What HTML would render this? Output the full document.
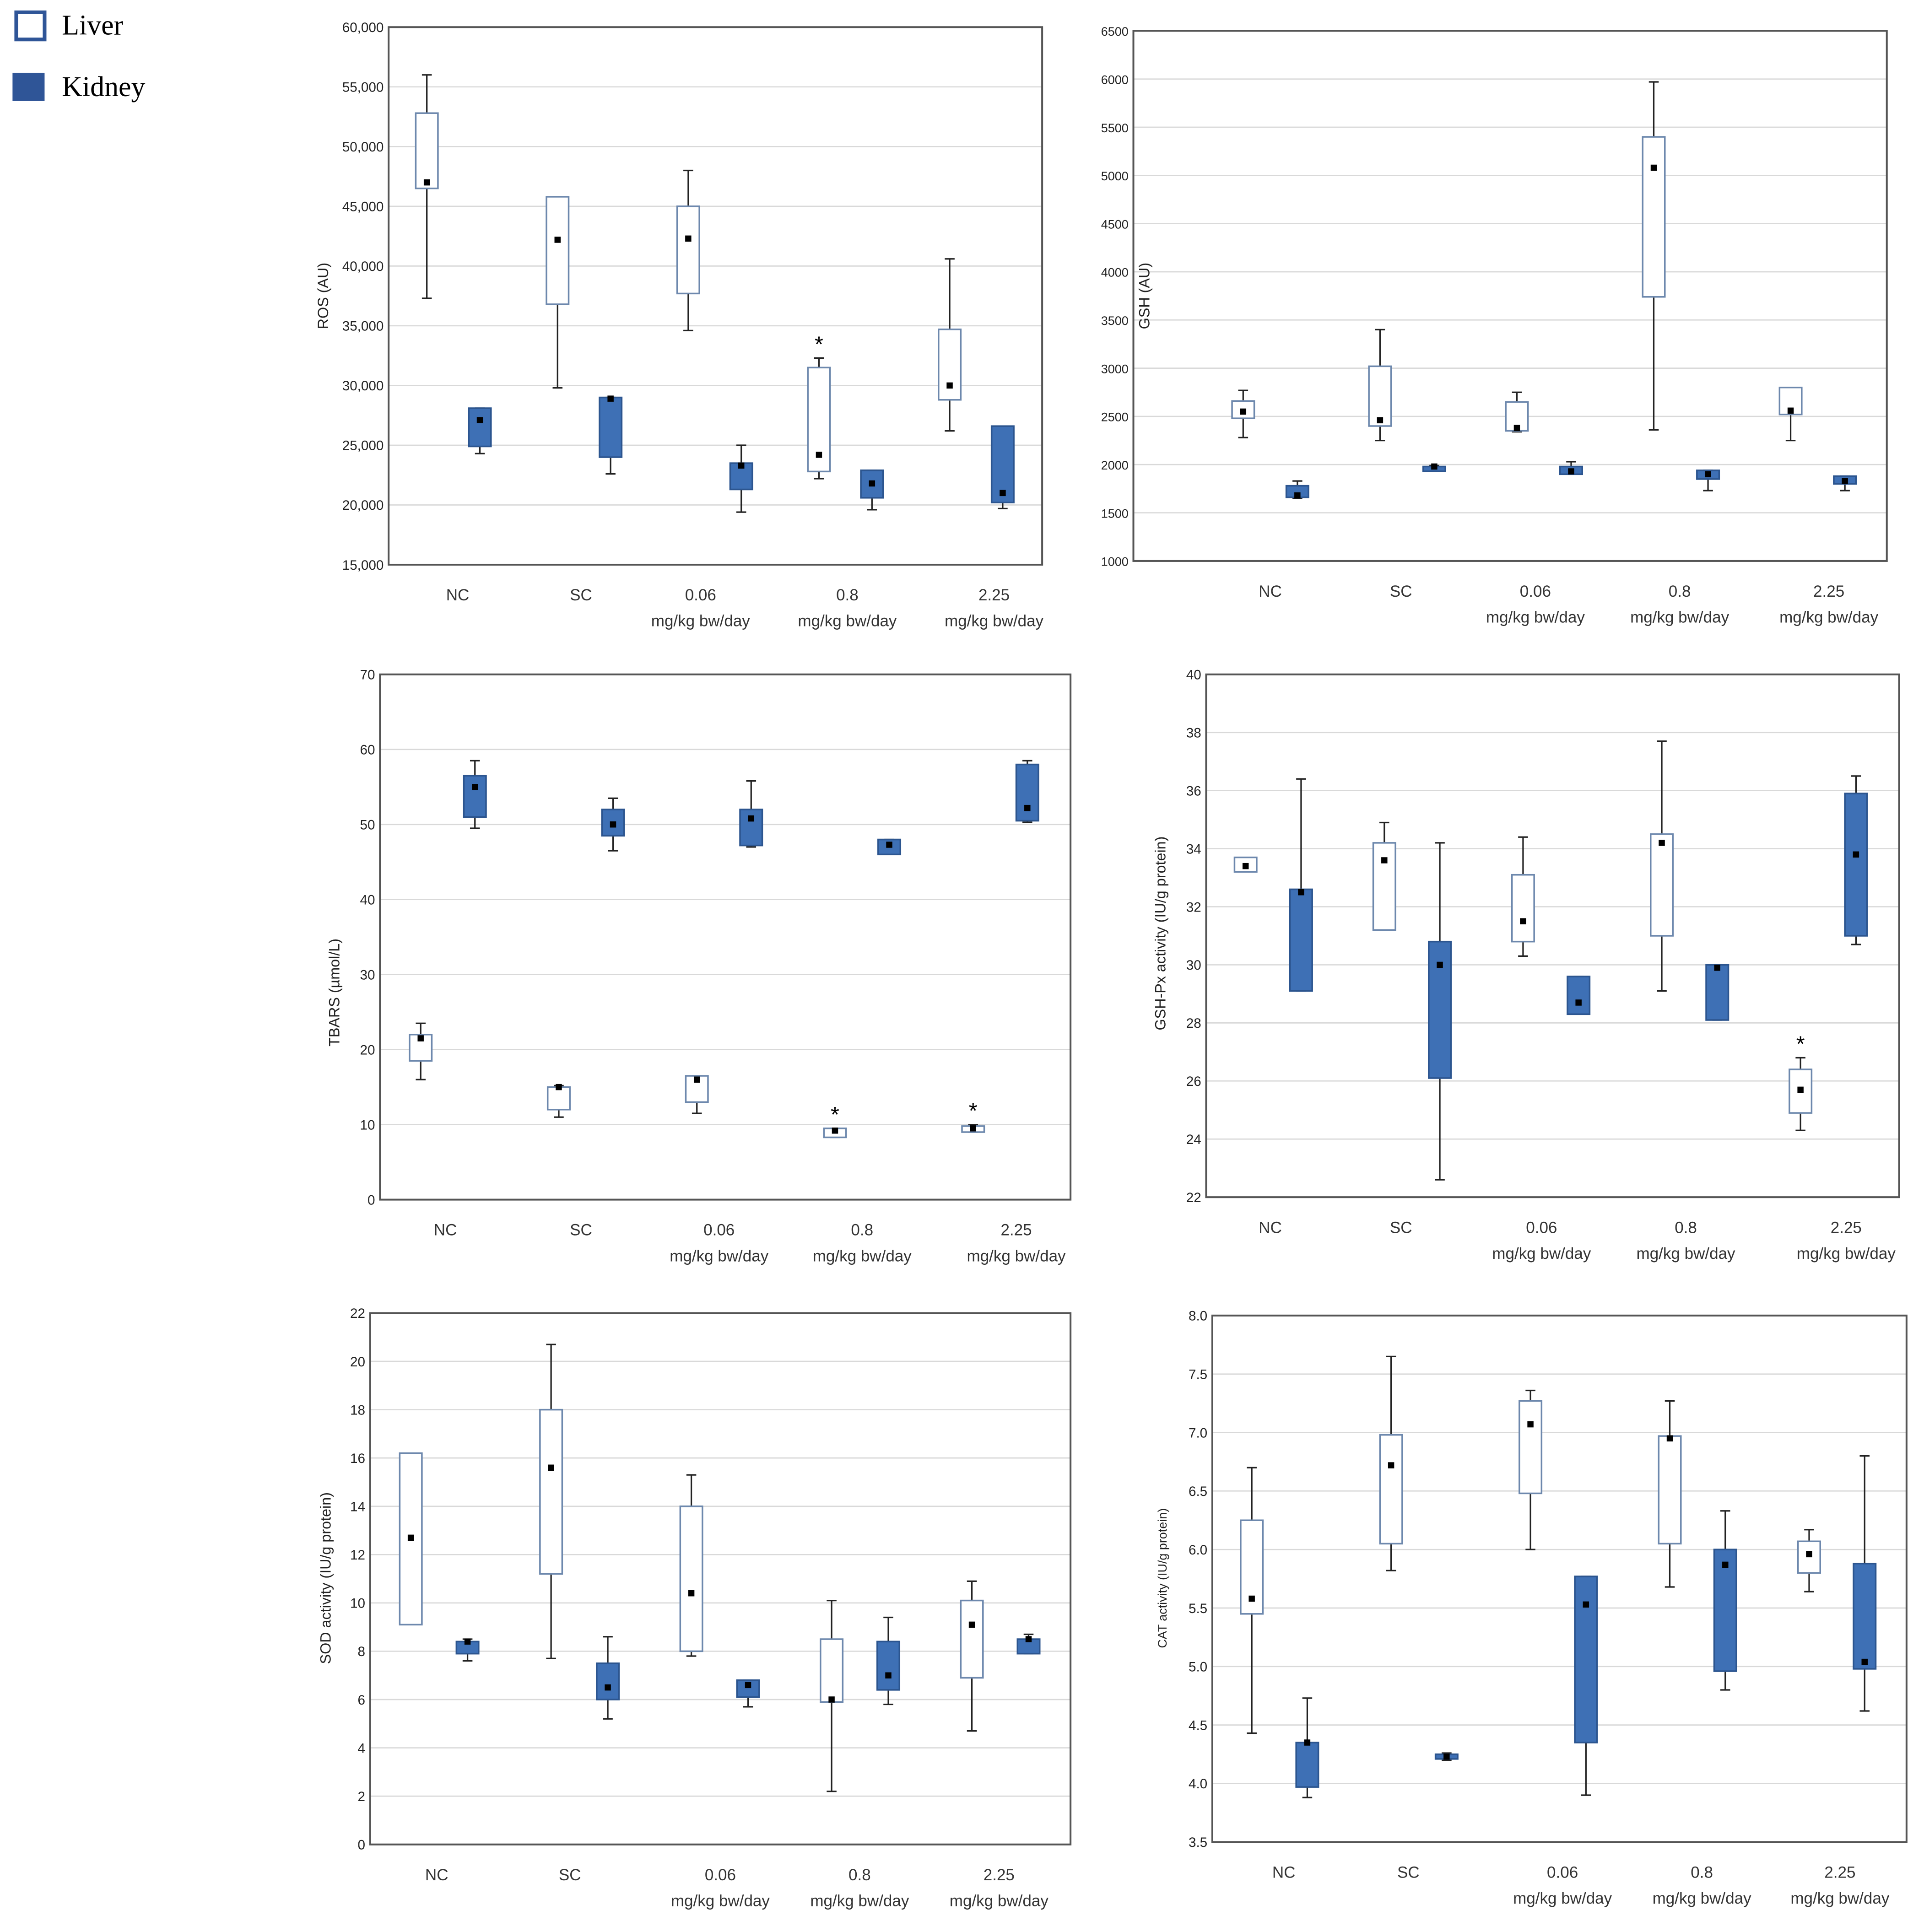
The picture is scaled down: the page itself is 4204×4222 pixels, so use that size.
<!DOCTYPE html>
<html><head><meta charset="utf-8"><style>
html,body{margin:0;padding:0;background:#fff;}
svg{display:block;}
</style></head><body>
<svg id="fig" xmlns="http://www.w3.org/2000/svg" width="4204" height="4222" viewBox="0 0 1560 1567">
<g>
<rect x="13" y="10" width="23" height="22" fill="#fff" stroke="#2f5597" stroke-width="3"/>
<text x="50" y="28" font-family="Liberation Serif, serif" font-size="23">Liver</text>
<rect x="10" y="59" width="26" height="23" fill="#2f5597"/>
<text x="50" y="78" font-family="Liberation Serif, serif" font-size="23">Kidney</text>
</g>
</svg>
<script>
const categories = [["NC",""],["SC",""],["0.06","mg/kg bw/day"],["0.8","mg/kg bw/day"],["2.25","mg/kg bw/day"]];
// each stat: [whiskerLow, boxLow, boxHigh, whiskerHigh, mean]
const rosLiver = [[37300,46500,52800,56000,47000],[29800,36800,45800,45800,42200],[34600,37700,45000,48000,42300],[22200,22800,31500,32300,24200],[26200,28800,34700,40600,30000]];
const rosKidney = [[24300,24900,28100,28100,27100],[22600,24000,29000,29000,28900],[19400,21300,23500,25000,23300],[19600,20600,22900,22900,21800],[19700,20200,26600,26600,21000]];
const rosStars = [3];
const gshLiver = [[2280,2480,2660,2770,2550],[2250,2400,3020,3400,2460],[2340,2350,2650,2750,2380],[2360,3740,5400,5970,5080],[2250,2520,2800,2800,2560]];
const gshKidney = [[1650,1660,1780,1830,1680],[1930,1930,1980,1990,1980],[1900,1900,1980,2030,1930],[1730,1850,1940,1940,1900],[1730,1800,1880,1880,1830]];
const tbarsLiver = [[16,18.5,22,23.5,21.5],[11,12,15,15.2,15],[11.5,13,16.5,16.5,16],[8.3,8.3,9.5,9.5,9.2],[9,9,9.8,10,9.5]];
const tbarsKidney = [[49.5,51,56.5,58.5,55],[46.5,48.5,52,53.5,50],[47,47.2,52,55.8,50.8],[46,46,48,48,47.3],[50.3,50.5,58,58.5,52.2]];
const tbarsStars = [3,4];
const gpxLiver = [[33.2,33.2,33.7,33.7,33.4],[31.2,31.2,34.2,34.9,33.6],[30.3,30.8,33.1,34.4,31.5],[29.1,31,34.5,37.7,34.2],[24.3,24.9,26.4,26.8,25.7]];
const gpxKidney = [[29.1,29.1,32.6,36.4,32.5],[22.6,26.1,30.8,34.2,30],[28.3,28.3,29.6,29.6,28.7],[28.1,28.1,30,30,29.9],[30.7,31,35.9,36.5,33.8]];
const gpxStars = [4];
const sodLiver = [[9.1,9.1,16.2,16.2,12.7],[7.7,11.2,18,20.7,15.6],[7.8,8,14,15.3,10.4],[2.2,5.9,8.5,10.1,6],[4.7,6.9,10.1,10.9,9.1]];
const sodKidney = [[7.6,7.9,8.4,8.5,8.4],[5.2,6,7.5,8.6,6.5],[5.7,6.1,6.8,6.8,6.6],[5.8,6.4,8.4,9.4,7],[7.9,7.9,8.5,8.7,8.5]];
const catLiver = [[4.43,5.45,6.25,6.7,5.58],[5.82,6.05,6.98,7.65,6.72],[6.0,6.48,7.27,7.36,7.07],[5.68,6.05,6.97,7.27,6.95],[5.64,5.8,6.07,6.17,5.96]];
const catKidney = [[3.88,3.97,4.35,4.73,4.35],[4.2,4.21,4.25,4.26,4.23],[3.9,4.35,5.77,5.77,5.53],[4.8,4.96,6,6.33,5.87],[4.62,4.98,5.88,6.8,5.04]];
const rosTicks = ["15,000","20,000","25,000","30,000","35,000","40,000","45,000","50,000","55,000","60,000"];
const gshTicks = ["1000","1500","2000","2500","3000","3500","4000","4500","5000","5500","6000","6500"];
const tbarsTicks = ["0","10","20","30","40","50","60","70"];
const gpxTicks = ["22","24","26","28","30","32","34","36","38","40"];
const sodTicks = ["0","2","4","6","8","10","12","14","16","18","20","22"];
const catTicks = ["3.5","4.0","4.5","5.0","5.5","6.0","6.5","7.0","7.5","8.0"];

const NS="http://www.w3.org/2000/svg";
const svg=document.getElementById('fig');
function mk(tag,attrs,parent){const e=document.createElementNS(NS,tag);for(const k in attrs)e.setAttribute(k,attrs[k]);(parent||svg).appendChild(e);return e;}

function panel(cfg){
  const g=mk('g',{});
  
  
  const {x0,x1,y0,y1,min,max}=cfg;
  const y=v=>y1-(v-min)/(max-min)*(y1-y0);
  const groupW=(cfg.lastLiver-cfg.firstLiver)/4;
  const lx=i=>cfg.firstLiver+i*groupW;
  const kx=i=>lx(i)+cfg.kOff;
  // grid & ticks
  cfg.ticks.forEach(t=>{
    const v=parseFloat(t.replace(/,/g,''));
    const yy=y(v);
    if(v!==min&&v!==max){const l=mk('line',{x1:x0,x2:x1,y1:yy,y2:yy,stroke:'#d9d9d9','stroke-width':1},g);
      
      }
    const tx=mk('text',{x:x0-4,y:yy+4,'text-anchor':'end','font-family':'Liberation Sans, sans-serif','font-size':cfg.tickFs||11,fill:'#222'},g);
    tx.textContent=t;
    
    
  });
  const fr=mk('rect',{x:x0,y:y0,width:x1-x0,height:y1-y0,fill:'none',stroke:'#555','stroke-width':1.5},g);
  
  
  const bw=cfg.bw||18;
  function box(s,cx,kid,nm){
    const bg=mk('g',{},g);
    
    
    const col=kid?'#3e70b5':'#fff', st=kid?'#2c558f':'#6d88ad';
    mk('line',{x1:cx,x2:cx,y1:y(s[0]),y2:y(s[3]),stroke:'#222','stroke-width':1.2},bg);
    mk('line',{x1:cx-4,x2:cx+4,y1:y(s[0]),y2:y(s[0]),stroke:'#222','stroke-width':1.2},bg);
    mk('line',{x1:cx-4,x2:cx+4,y1:y(s[3]),y2:y(s[3]),stroke:'#222','stroke-width':1.2},bg);
    mk('rect',{x:cx-bw/2,y:y(s[2]),width:bw,height:Math.max(2,y(s[1])-y(s[2])),fill:col,stroke:st,'stroke-width':1.3},bg);
    mk('rect',{x:cx-2.5,y:y(s[4])-2.5,width:5,height:5,fill:'#000'},bg);
  }
  cfg.liver.forEach((s,i)=>box(s,lx(i),false,'liver-box-'+i));
  cfg.kidney.forEach((s,i)=>box(s,kx(i),true,'kidney-box-'+i));
  (cfg.stars||[]).forEach(i=>{
    const s=cfg.liver[i];
    const t=mk('text',{x:lx(i),y:y(s[3])-5,'text-anchor':'middle','font-family':'Liberation Sans, sans-serif','font-size':18,fill:'#000'},g);
    t.textContent='*';
    
    
  });
  categories.forEach((c,i)=>{
    const cx=cfg.catX[i];
    const t1=mk('text',{x:cx,y:y1+29,'text-anchor':'middle','font-family':'Liberation Sans, sans-serif','font-size':13,fill:'#333'},g);
    t1.textContent=c[0];
    
    
    if(c[1]){const t2=mk('text',{x:cx,y:y1+50,'text-anchor':'middle','font-family':'Liberation Sans, sans-serif','font-size':13,fill:'#333'},g);
      t2.textContent=c[1];
      
      }
  });
  const at=mk('text',{x:cfg.tx,y:cfg.ty,'text-anchor':'middle','font-family':'Liberation Sans, sans-serif','font-size':cfg.titleFs||12,fill:'#222',transform:`rotate(-90 ${cfg.tx} ${cfg.ty})`},g);
  at.textContent=cfg.title;
  
  
}

panel({name:'ros',x0:315,x1:845,y0:22,y1:458,min:15000,max:60000,ticks:rosTicks,liver:rosLiver,kidney:rosKidney,stars:rosStars,firstLiver:346,lastLiver:770,kOff:43,catX:[371,471,568,687,806],title:'ROS (AU)',tx:266,ty:240});
panel({name:'gsh',x0:919,x1:1530,y0:25,y1:455,min:1000,max:6500,ticks:gshTicks,liver:gshLiver,kidney:gshKidney,firstLiver:1008,lastLiver:1452,kOff:44,catX:[1030,1136,1245,1362,1483],title:'GSH (AU)',tx:932,ty:240,tickFs:10});
panel({name:'tbars',x0:308,x1:868,y0:547,y1:973,min:0,max:70,ticks:tbarsTicks,liver:tbarsLiver,kidney:tbarsKidney,stars:tbarsStars,firstLiver:341,lastLiver:789,kOff:44,catX:[361,471,583,699,824],title:'TBARS (µmol/L)',tx:275,ty:805});
panel({name:'gshpx',x0:978,x1:1540,y0:547,y1:971,min:22,max:40,ticks:gpxTicks,liver:gpxLiver,kidney:gpxKidney,stars:gpxStars,firstLiver:1010,lastLiver:1460,kOff:45,catX:[1030,1136,1250,1367,1497],title:'GSH-Px activity (IU/g protein)',tx:945,ty:757});
panel({name:'sod',x0:300,x1:868,y0:1065,y1:1496,min:0,max:22,ticks:sodTicks,liver:sodLiver,kidney:sodKidney,firstLiver:333,lastLiver:788,kOff:46,catX:[354,462,584,697,810],title:'SOD activity (IU/g protein)',tx:268,ty:1280});
panel({name:'cat',x0:983,x1:1546,y0:1067,y1:1494,min:3.5,max:8.0,ticks:catTicks,liver:catLiver,kidney:catKidney,firstLiver:1015,lastLiver:1467,kOff:45,catX:[1041,1142,1267,1380,1492],title:'CAT activity (IU/g protein)',tx:946,ty:1280,titleFs:10});
</script>
</body></html>
